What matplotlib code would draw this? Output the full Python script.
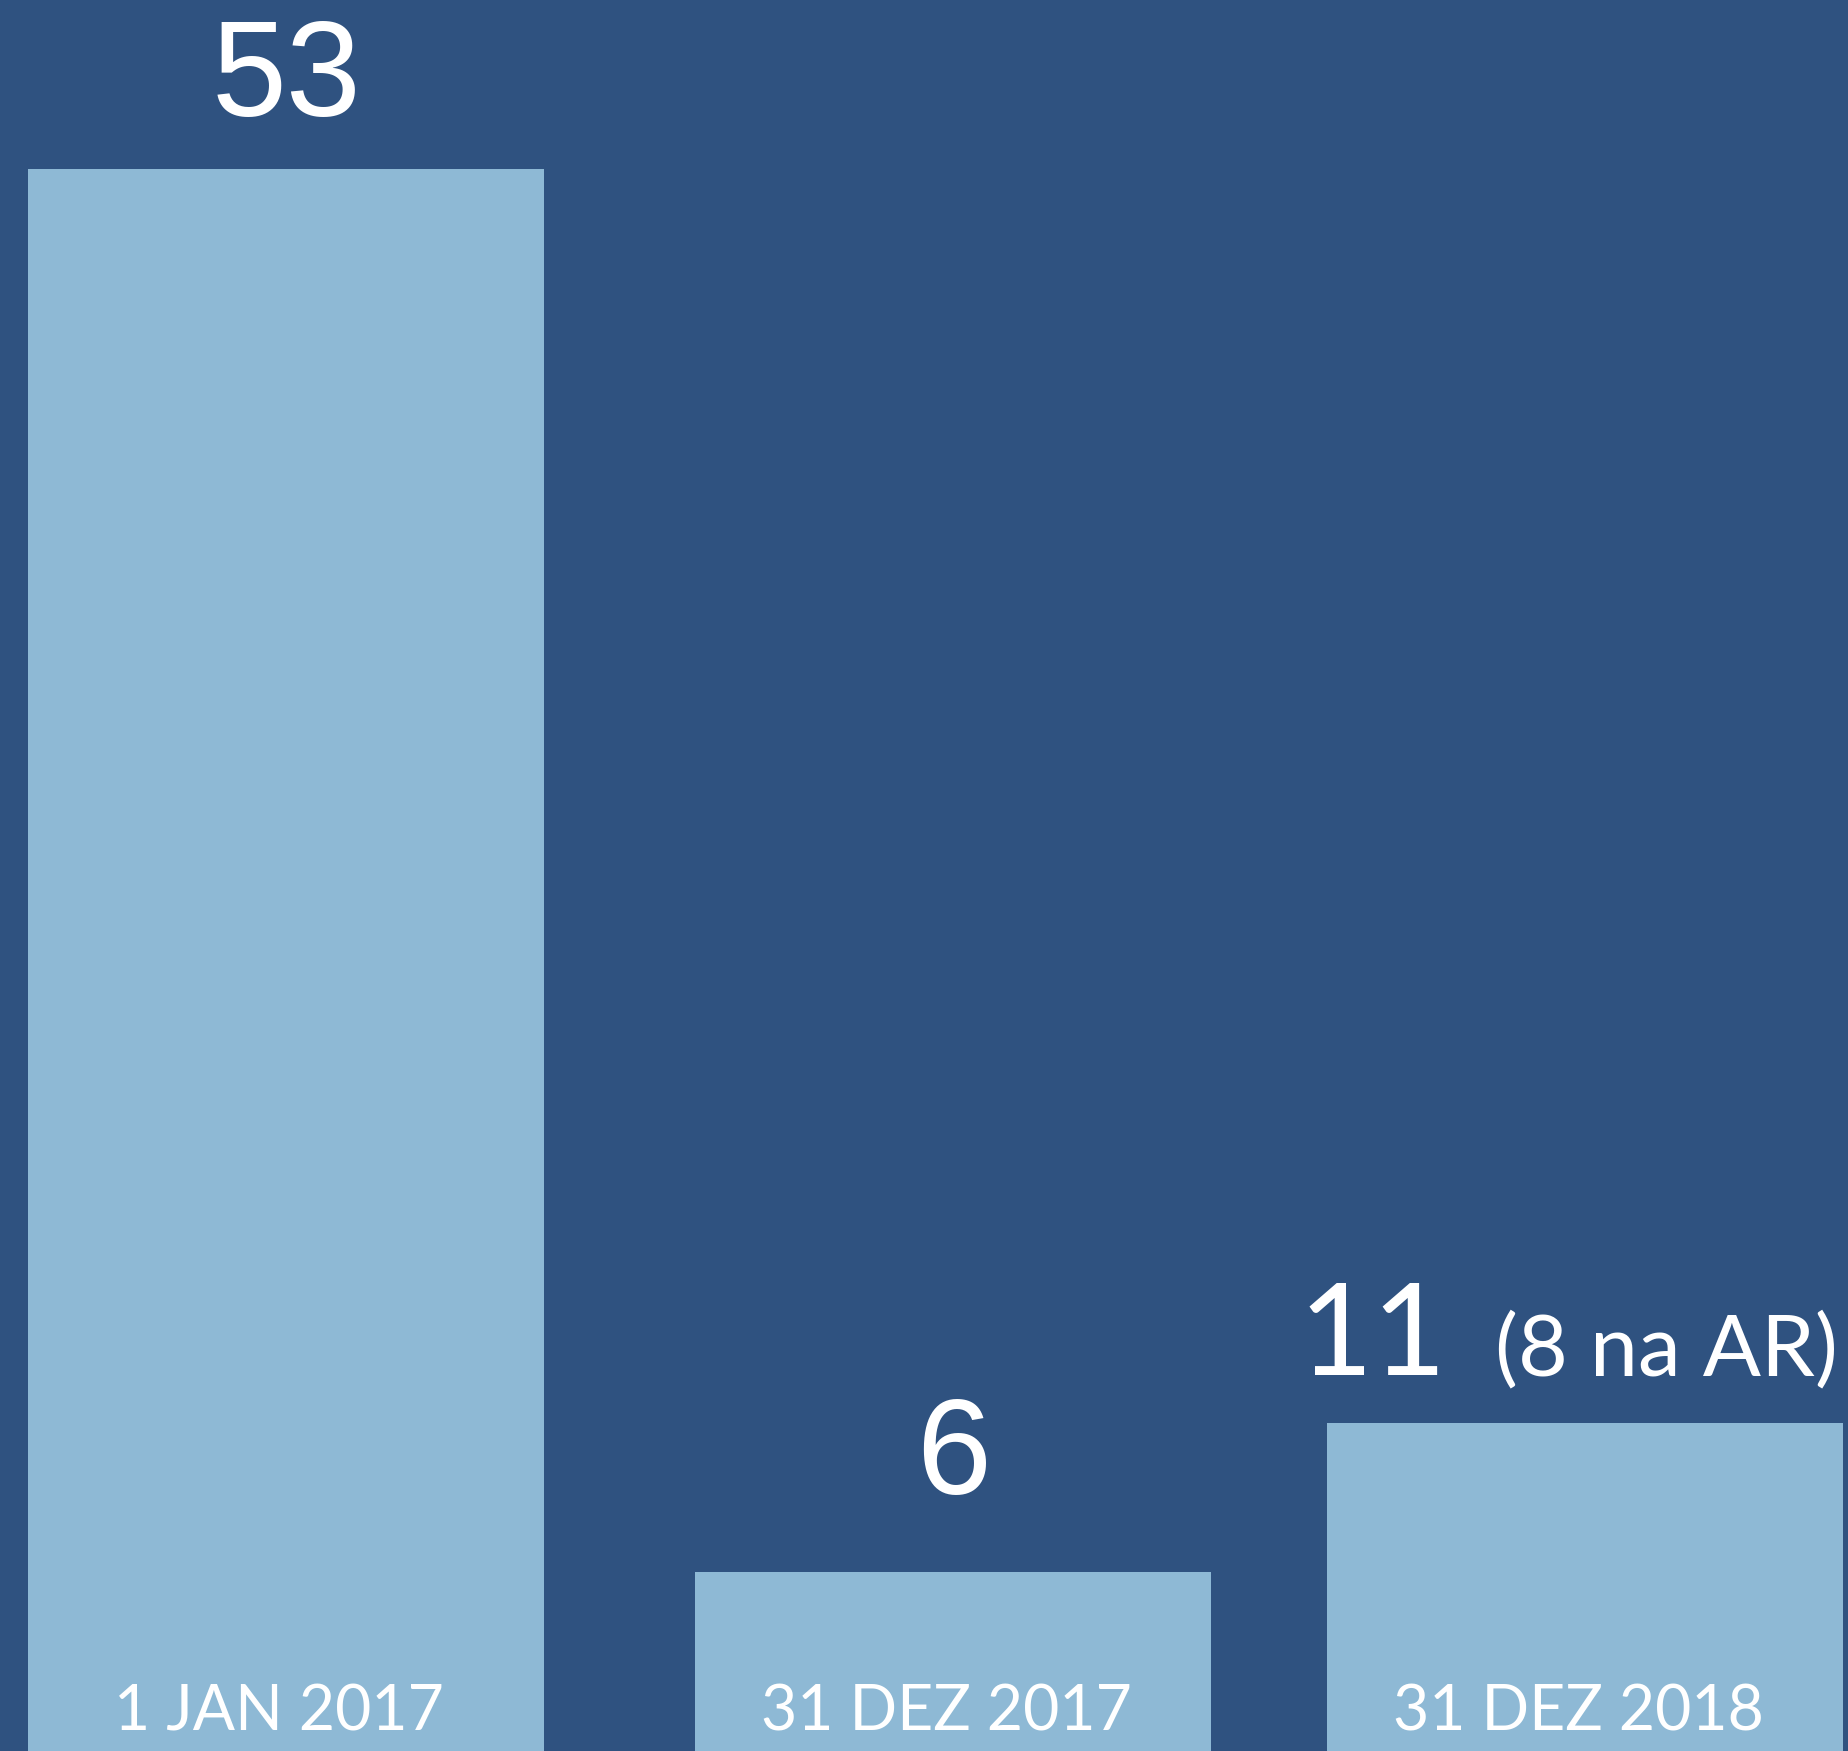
import matplotlib.pyplot as plt
from matplotlib import font_manager

# data
dates = ["1 JAN 2017", "31 DEZ 2017", "31 DEZ 2018"]
counts = [53, 6, 11]
notes = ["", "", "(8 na AR)"]

BG = "#2F5280"
BAR = "#8EB9D5"

names = {f.name for f in font_manager.fontManager.ttflist}
narrow = "Liberation Sans Narrow" if "Liberation Sans Narrow" in names else "Lato"

pos = [0, 1, 1.947]  # bars are not evenly spaced in the original
gaps = [38, 56, 34]  # space between bar top and its number, in points

fig = plt.figure(figsize=(18.49, 17.51), dpi=100, facecolor=BG)
ax = fig.add_axes([0, 0, 1, 1])
ax.set_facecolor(BG)

ax.bar(pos, counts, width=0.773, color=BAR)
ax.set_xlim(-0.4285, 2.342)
ax.set_ylim(0, 53 * 1751 / 1582)
ax.axis("off")

# date labels inside the bars, near the bottom
for x, d in zip(pos, dates):
    ax.annotate(d, xy=(x, 0), xytext=(-5, 15), textcoords="offset points",
                ha="center", va="baseline", color="white",
                fontsize=45, family=narrow)

# value labels above the bars
for x, v, n, g in zip(pos, counts, notes, gaps):
    if n:
        ax.annotate(str(v), xy=(x, v), xytext=(-100, g), textcoords="offset points",
                    ha="right", va="baseline", color="white",
                    fontsize=92, family=narrow)
        ax.annotate(n, xy=(x, v), xytext=(-65, g), textcoords="offset points",
                    ha="left", va="baseline", color="white",
                    fontsize=62, family=narrow)
    else:
        ax.annotate(str(v), xy=(x, v), xytext=(0, g), textcoords="offset points",
                    ha="center", va="baseline", color="white",
                    fontsize=97, family="Liberation Sans")

fig.savefig("out.png", dpi=100, facecolor=BG)
